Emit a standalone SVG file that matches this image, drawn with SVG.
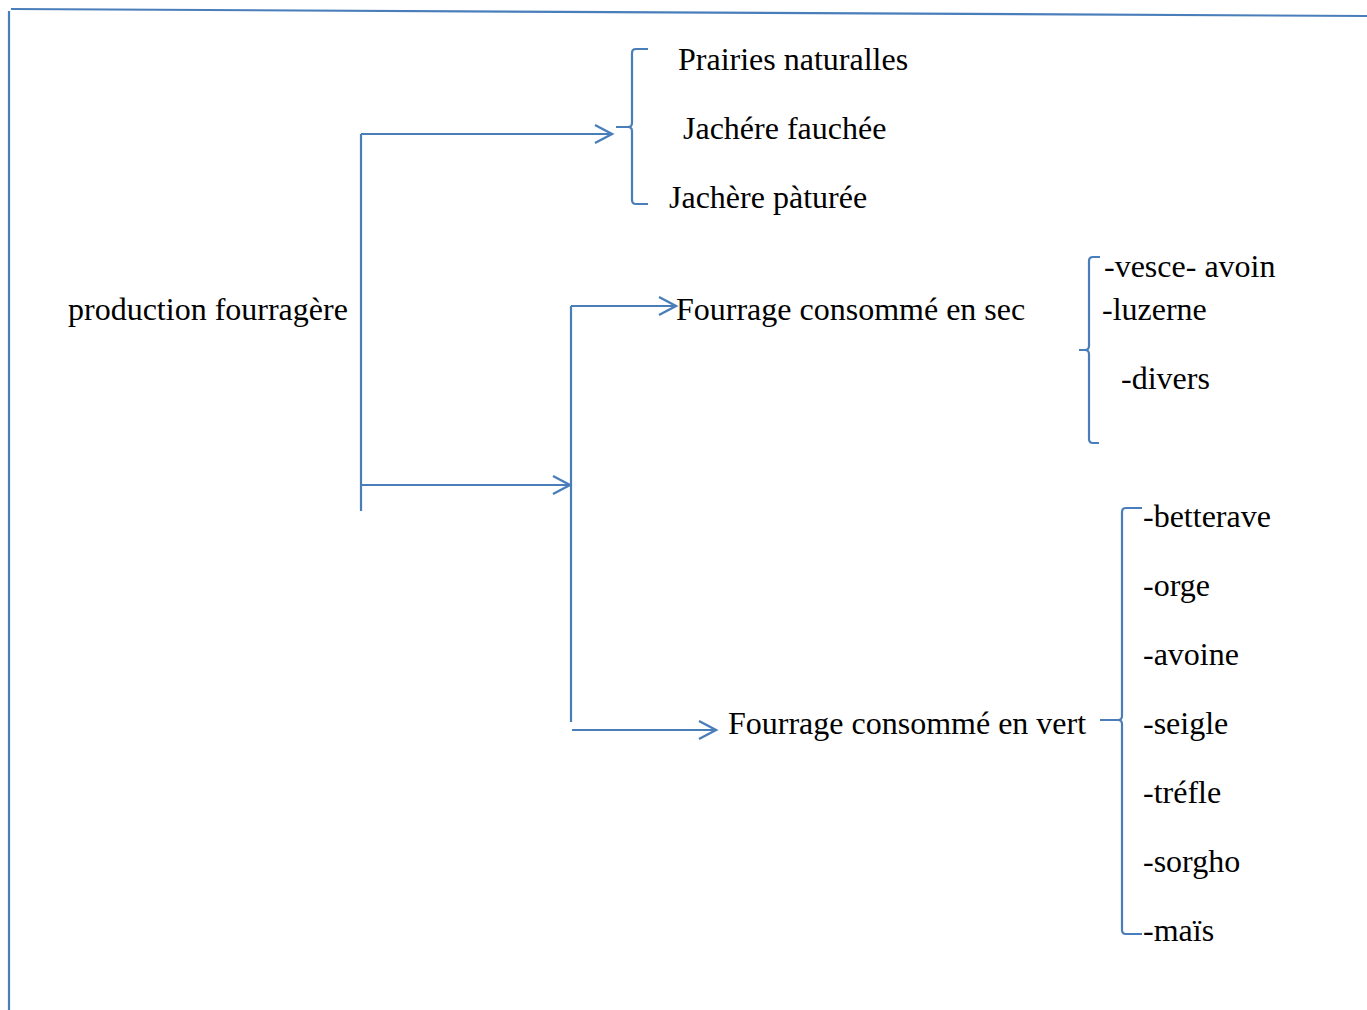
<svg xmlns="http://www.w3.org/2000/svg" width="1367" height="1010" viewBox="0 0 1367 1010">
<defs>
<style>
.ln{stroke:#4a7ebb;stroke-width:2.2;fill:none}
.t{font-family:"Liberation Serif","Times New Roman",serif;font-size:32px;fill:#000}
</style>
<marker id="ah" markerWidth="22" markerHeight="22" refX="19" refY="11" orient="auto" markerUnits="userSpaceOnUse">
<path d="M2,2 L19,11 L2,20" fill="none" stroke="#4a7ebb" stroke-width="2.4"/>
</marker>
</defs>
<rect width="1367" height="1010" fill="#fff"/>
<g id="frame">
<line class="ln" x1="11" y1="9" x2="1367" y2="16"/>
<line class="ln" x1="9" y1="11" x2="9" y2="1010"/>
</g>
<g id="connectors">
<line class="ln" x1="361" y1="134" x2="361" y2="511"/>
<line class="ln" x1="361" y1="134" x2="612" y2="134" marker-end="url(#ah)"/>
<line class="ln" x1="361" y1="485" x2="570" y2="485" marker-end="url(#ah)"/>
<line class="ln" x1="571" y1="306" x2="571" y2="722"/>
<line class="ln" x1="571" y1="306" x2="676" y2="306" marker-end="url(#ah)"/>
<line class="ln" x1="572" y1="730" x2="716" y2="730" marker-end="url(#ah)"/>
<path class="ln" d="M648,49 H636 Q632,49 632,53 V123 Q632,127 628,127 H616 M628,127 Q632,127 632,131 V200 Q632,204 636,204 H648"/>
<path class="ln" d="M1100,257 H1093 Q1089,257 1089,261 V346 Q1089,350 1085,350 H1079 M1085,350 Q1089,350 1089,354 V439 Q1089,443 1093,443 H1099"/>
<path class="ln" d="M1142,508 H1126 Q1122,508 1122,512 V716 Q1122,720 1118,720 H1100 M1118,720 Q1122,720 1122,724 V930 Q1122,934 1126,934 H1142"/>
</g>
<g id="root"><text class="t" x="68" y="320">production fourragère</text></g>
<g id="group1">
<text class="t" x="678" y="70">Prairies naturalles</text>
<text class="t" x="683" y="139">Jachére fauchée</text>
<text class="t" x="669" y="208">Jachère pàturée</text>
</g>
<g id="sec">
<text class="t" x="676" y="320">Fourrage consommé en sec</text>
</g>
<g id="sec-items">
<text class="t" x="1104" y="277">-vesce- avoin</text>
<text class="t" x="1102" y="320">-luzerne</text>
<text class="t" x="1121" y="389">-divers</text>
</g>
<g id="vert">
<text class="t" x="728" y="734">Fourrage consommé en vert</text>
</g>
<g id="vert-items">
<text class="t" x="1143" y="527">-betterave</text>
<text class="t" x="1143" y="596">-orge</text>
<text class="t" x="1143" y="665">-avoine</text>
<text class="t" x="1143" y="734">-seigle</text>
<text class="t" x="1143" y="803">-tréfle</text>
<text class="t" x="1143" y="872">-sorgho</text>
<text class="t" x="1143" y="941">-maïs</text>
</g>
</svg>
